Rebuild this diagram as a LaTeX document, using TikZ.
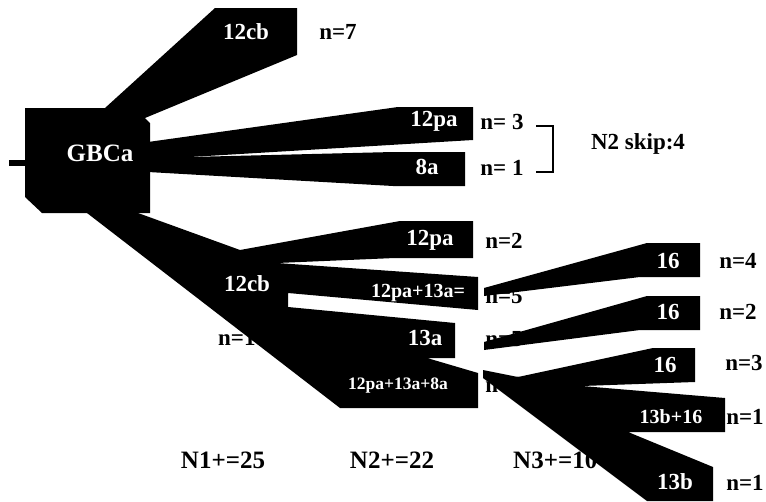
\documentclass[tikz,border=0pt]{standalone}
\usepackage{fontspec}
\setmainfont{Liberation Serif}
\begin{document}
\begin{tikzpicture}[x=1pt,y=-1pt]
\tikzset{
  lab/.style={font=\fontsize{23}{23}\selectfont\bfseries, inner sep=0pt},
  labs/.style={lab, font=\fontsize{20}{20}\selectfont\bfseries},
  labxs/.style={lab, font=\fontsize{17.5}{18}\selectfont\bfseries},
  labl/.style={lab, font=\fontsize{25}{25}\selectfont\bfseries},
  wlab/.style={lab, text=white},
  wlabl/.style={labl, text=white},
  wlabs/.style={labs, text=white},
  wlabxs/.style={labxs, text=white},
  tot/.style={labl},
  branch/.style={fill=black, draw=none}
}
\useasboundingbox (0,0) rectangle (766,501);

% counts beside the branches (drawn first, branches may overlap them)
\node[lab] (n7)  at (338,32)  {n=7};
\node[lab] (n3)  at (502,122) {n= 3};
\node[lab] (n1)  at (502,168) {n= 1};
\node[lab] (skip) at (638,144) {N2 skip:4};
\node[lab] (n2)  at (504,241) {n=2};
\node[lab] (n5a) at (504,296) {n=5};
\node[lab] (n5b) at (504,339) {n=5};
\node[lab] (n6)  at (504,385) {n=6};
\node[lab, anchor=west] (n18) at (218,338) {n=18};
\node[lab] (n4)  at (738,261) {n=4};
\node[lab] (n2b) at (738,312) {n=2};
\node[lab] (n3b) at (744,363) {n=3};
\node[lab] (n1a) at (745,417) {n=1};
\node[lab] (n1b) at (745,483) {n=1};
\node[tot] (t1) at (223,460) {N1+=25};
\node[tot] (t2) at (392,460) {N2+=22};
\node[tot, anchor=west] (t3) at (513,460) {N3+=10};

% bracket grouping the two skipped branches
\draw[line width=2.5pt] (536,126) -- (553,126) -- (553,172) -- (536,172);

% root stub and GBCa block with the upper 12cb branch
\fill[branch] (9,160) rectangle (25,166);
\fill[branch] (25,108) -- (105,108) -- (215,8) -- (297,8) -- (297,55)
  -- (145,118) -- (150,123) -- (150,213) -- (42,213) -- (25,197) -- cycle;

% 12pa and 8a branches
\fill[branch] (148,142) -- (398,107) -- (473,107) -- (473,140)
  -- (190,157) -- (148,157) -- cycle;
\fill[branch] (148,157) -- (190,157) -- (393,152) -- (465,152)
  -- (465,186) -- (393,186) -- (148,172) -- cycle;

% lower 12cb trunk with its four sub-branches
\fill[branch] (87,213) -- (138,213) -- (240,250) -- (400,221) -- (473,221)
  -- (473,258) -- (395,258) -- (277,263) -- (478,277) -- (478,310)
  -- (288,293) -- (288,307) -- (455,323) -- (455,358) -- (427,358)
  -- (478,373) -- (478,408) -- (340,408) -- cycle;

% third-level branches
\fill[branch] (484,288) -- (647,243) -- (700,243) -- (700,277)
  -- (640,277) -- (484,296) -- cycle;
\fill[branch] (484,342) -- (647,296) -- (700,296) -- (700,330)
  -- (640,330) -- (484,350) -- cycle;
\fill[branch] (483,370) -- (518,377) -- (653,348) -- (695,348) -- (695,382)
  -- (582,386) -- (725,398) -- (725,432) -- (628,432) -- (713,467)
  -- (713,501) -- (647,501) -- (483,378) -- cycle;

% labels inside the branches
\node[wlabl] (gbca) at (100,153) {GBCa};
\node[wlab] (cb1) at (246,32) {12cb};
\node[wlab] (pa1) at (434,121) {12pa};
\node[wlab] (a8)  at (427,167) {8a};
\node[wlab] (pa2) at (430,240) {12pa};
\node[wlab] (cb2) at (247,284) {12cb};
\node[wlabs] (pa13) at (418,293) {12pa+13a=};
\node[wlab] (a13) at (425,338) {13a};
\node[wlabxs] (pa13a8) at (398,386) {12pa+13a+8a};
\node[wlab] (s16a) at (668,261) {16};
\node[wlab] (s16b) at (668,312) {16};
\node[wlab] (s16c) at (665,365) {16};
\node[wlabs] (b16) at (671,417) {13b+16};
\node[wlab] (b13) at (675,482) {13b};
\end{tikzpicture}
\end{document}
